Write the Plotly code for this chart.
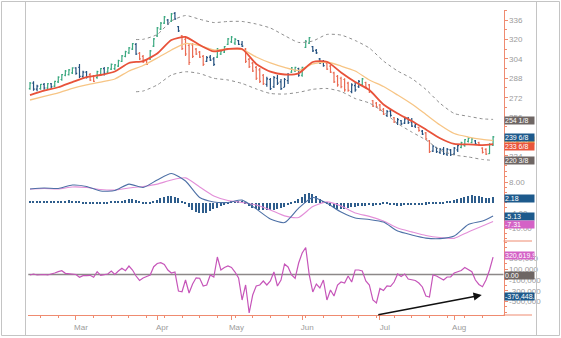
import pandas as pd
import plotly.graph_objects as go

# ---------------- data ----------------
holidays = ["2010-02-15", "2010-04-02", "2010-05-31", "2010-07-05"]
dates = pd.bdate_range("2010-02-09", "2010-08-17", freq="C", holidays=holidays)

# bar colour class per session: G = up (green), R = down (red), B = neutral (blue)
bar_class = ("GBBGBGBGGGGGG" "BBBBRRGGBGGGGGGGG" "BRRRGGGGGBGBB" "RRRRRRRBBBGGGGGGBB"
             "RRRRRRBBBBBBBGGBGGGBBBB" "RRRRRRRBBBGRRRRRRBBR" "BBBBBBRBRRBBBBBBBBGGGGBRRRGG")

high = [284.9, 285.5, 282.7, 283.3, 284.1, 284.1, 284.1, 286.0, 289.6, 291.5,
        294.8, 295.6, 297.0, 297.0, 299.8, 294.2, 294.0, 292.3, 290.7, 294.2,
        296.5, 297.3, 297.3, 300.2, 299.8, 303.3, 307.2, 310.7, 313.8, 317.1,
        317.1, 309.6, 307.2, 303.1, 311.3, 321.2, 330.2, 334.4, 339.3, 336.8,
        341.8, 342.6, 331.1, 323.6, 322.0, 316.2, 317.1, 312.9, 310.5, 307.2,
        306.3, 307.2, 305.5, 312.9, 311.5, 314.6, 321.2, 322.8, 321.2, 319.5,
        318.7, 312.9, 304.7, 301.4, 298.1, 296.5, 291.5, 289.3, 288.2, 289.9,
        290.7, 287.4, 288.2, 292.3, 297.3, 297.5, 296.7, 297.5, 319.5, 322.0,
        314.6, 312.1, 304.7, 303.1, 301.4, 298.9, 293.4, 290.7, 289.3, 288.0,
        285.2, 283.9, 284.9, 286.6, 288.2, 285.2, 283.3, 270.1, 268.5, 266.8,
        263.5, 261.9, 261.9, 256.1, 255.3, 253.6, 255.3, 256.1, 255.3, 251.2,
        248.1, 245.4, 243.7, 237.2, 233.0, 231.4, 230.6, 231.4, 230.6, 229.7,
        231.4, 233.0, 235.8, 238.0, 239.4, 238.8, 237.2, 235.8, 231.1, 230.3,
        234.4, 240.4]
low = [278.6, 277.8, 277.3, 278.6, 278.6, 279.2, 279.4, 280.6, 284.1, 286.0,
       289.6, 290.3, 291.5, 291.0, 288.2, 288.2, 287.8, 285.8, 284.9, 287.6,
       289.9, 290.3, 292.3, 294.8, 294.8, 297.3, 301.4, 305.3, 308.0, 311.3,
       307.2, 303.1, 300.6, 298.9, 303.1, 313.8, 322.0, 327.8, 332.7, 331.9,
       334.4, 336.0, 326.1, 311.3, 306.3, 298.9, 304.7, 307.2, 304.7, 298.1,
       301.4, 302.2, 298.1, 304.7, 307.2, 308.8, 315.4, 317.1, 315.4, 315.4,
       313.8, 300.6, 296.5, 293.2, 286.6, 284.1, 282.5, 281.1, 278.3, 280.0,
       282.5, 278.3, 280.8, 283.3, 292.3, 293.2, 289.3, 289.3, 312.9, 316.2,
       309.6, 308.0, 299.8, 297.5, 294.8, 292.3, 284.1, 281.1, 279.7, 277.0,
       277.0, 275.6, 277.0, 280.0, 281.6, 279.7, 275.9, 264.3, 263.5, 261.0,
       257.7, 256.1, 256.3, 251.2, 249.5, 249.5, 250.3, 250.3, 247.9, 247.0,
       244.0, 241.3, 237.2, 226.4, 227.3, 226.4, 225.6, 224.8, 224.0, 224.0,
       224.8, 227.3, 230.3, 231.6, 235.0, 234.5, 233.0, 232.2, 226.0, 224.8,
       225.6, 232.2]
open_ = [279.5, 284.0, 279.0, 279.5, 283.0, 280.0, 283.5, 281.5, 285.0, 287.0,
         290.5, 291.0, 292.5, 296.5, 297.0, 289.5, 293.0, 291.0, 289.5, 288.5,
         291.0, 296.0, 293.0, 295.5, 296.0, 298.0, 302.0, 306.0, 309.0, 312.0,
         316.0, 308.5, 306.0, 302.5, 304.0, 314.5, 323.0, 328.5, 333.5, 336.0,
         335.0, 341.5, 330.5, 323.0, 320.0, 315.0, 315.5, 312.0, 309.5, 306.0,
         302.0, 305.5, 304.0, 305.5, 308.0, 309.5, 316.0, 318.0, 317.0, 319.0,
         316.0, 312.0, 303.5, 300.5, 297.0, 295.0, 290.5, 283.0, 287.0, 281.0,
         288.0, 285.0, 280.5, 286.0, 293.0, 294.0, 296.0, 290.5, 313.5, 317.0,
         314.0, 311.0, 304.0, 302.0, 300.5, 298.0, 292.5, 289.5, 288.0, 287.0,
         284.0, 277.0, 282.0, 281.0, 282.5, 284.5, 282.5, 269.5, 267.5, 266.0,
         262.5, 257.5, 261.0, 255.5, 251.0, 253.0, 251.0, 255.0, 252.0, 248.5,
         247.5, 244.5, 243.0, 236.5, 228.0, 231.0, 227.0, 229.5, 225.5, 229.0,
         225.5, 229.0, 231.0, 232.5, 236.0, 235.0, 236.5, 235.0, 230.5, 229.5,
         226.0, 233.0]
close = [284.0, 279.0, 281.5, 283.0, 280.0, 283.5, 281.0, 285.5, 289.0, 291.0,
         294.0, 295.0, 296.5, 292.0, 289.5, 293.0, 289.0, 286.5, 285.5, 293.5,
         296.0, 292.0, 296.5, 299.5, 299.0, 302.5, 306.5, 310.0, 313.0, 316.5,
         308.0, 304.0, 301.5, 299.5, 310.5, 320.5, 329.5, 333.5, 338.5, 333.0,
         341.0, 337.0, 327.0, 312.5, 308.0, 301.0, 306.0, 308.0, 305.5, 299.5,
         305.0, 303.0, 299.5, 312.0, 310.5, 314.0, 320.5, 322.0, 320.0, 316.0,
         314.5, 302.0, 297.5, 294.0, 288.0, 285.5, 283.5, 287.5, 279.5, 288.5,
         284.0, 279.5, 287.0, 291.0, 296.5, 297.0, 290.5, 297.0, 318.5, 321.5,
         310.5, 309.0, 300.5, 298.5, 295.5, 293.0, 285.0, 282.5, 281.0, 278.5,
         278.0, 282.5, 278.5, 285.5, 287.5, 280.5, 277.0, 265.0, 264.5, 262.0,
         258.5, 260.5, 257.5, 252.0, 254.0, 250.5, 254.5, 251.5, 248.5, 250.0,
         245.0, 242.0, 238.0, 227.5, 232.0, 227.5, 229.5, 226.0, 229.5, 225.0,
         230.5, 232.5, 235.0, 237.5, 238.5, 238.0, 234.0, 233.0, 227.0, 225.5,
         233.5, 239.75]

# moving averages / MACD lines read every 4th session (plus the last one)
ma_fast = [274.2, 277.9, 280.6, 284.9, 289.0, 290.7, 293.6, 300.6, 302.2, 308.4,
           319.5, 322.0, 315.4, 310.1, 312.1, 312.1, 299.8, 293.4, 291.1, 292.1,
           301.4, 301.6, 292.8, 284.9, 278.3, 266.4, 259.0, 252.8, 245.8, 238.6,
           233.9, 233.6, 233.0, 233.75]
ma_slow = [270.1, 273.0, 275.9, 279.6, 282.5, 284.9, 287.4, 294.0, 298.5, 304.7,
           311.3, 316.6, 315.0, 311.3, 312.1, 311.7, 305.5, 300.6, 296.9, 294.4,
           299.8, 301.4, 298.1, 294.0, 286.6, 281.2, 274.2, 266.8, 258.2, 249.5,
           242.5, 239.6, 237.6, 236.6]
macd_line = [5.3, 5.7, 5.5, 6.85, 6.3, 4.5, 4.7, 7.2, 5.9, 8.8,
             11.3, 8.4, 2.0, 0.3, 0.1, 1.0, -2.4, -6.3, -7.7, -2.1,
             2.0, -0.2, -3.6, -5.9, -6.5, -7.5, -11.0, -12.5, -13.7, -13.9,
             -12.9, -8.4, -7.1, -5.13]
macd_signal = [5.3, 5.5, 5.3, 6.1, 5.9, 5.1, 4.9, 5.7, 6.3, 7.2,
               8.8, 9.6, 6.1, 2.6, 0.85, 0.1, -0.9, -2.8, -5.1, -5.7,
               -1.5, 0.3, -1.3, -4.0, -5.3, -7.1, -9.8, -11.3, -12.7, -13.5,
               -13.8, -11.3, -9.0, -7.31]
# channel bands start at session 30
band_upper = [319.9, 320.1, 324.1, 335.2, 339.7, 336.6, 333.9, 334.8, 334.8, 332.7,
              329.4, 323.2, 317.5, 318.7, 324.1, 323.6, 319.1, 312.9, 302.2, 294.0,
              287.8, 278.8, 267.4, 259.0, 256.7, 254.6, 254.125]
band_lower = [276.9, 277.5, 282.5, 290.7, 293.4, 291.9, 288.0, 286.6, 283.7, 279.2,
              275.5, 275.0, 276.4, 278.9, 279.6, 277.1, 271.3, 267.6, 260.2, 250.7,
              243.7, 237.2, 228.9, 224.8, 223.2, 221.1, 220.375]

macd_hist = [0.3, 0.3, 0.3, 0.3, 0.3, 0.3, 0.4, 0.5, 0.6, 0.7, 0.8, 0.9, 0.8,
             0.5, 0.3, -0.3, -0.3, -0.5, -0.6, -0.5, -0.4, -0.3, -0.3, 0.3, 0.3, 0.5, 0.8, 1.2,
             1.5, 1.6, 1.0, 0.3, -0.3, -0.5,
             -0.3, 0.4, 1.2, 1.9, 2.4, 2.5, 2.6, 2.4, 1.8,
             0.8, -0.5, -1.8, -2.8, -3.5,
             -4.0, -4.1, -3.8, -3.3, -2.6, -2.0, -1.4,
             -0.9, -0.4, 0.3, 0.3, 0.5, 0.3,
             -0.6, -1.3, -1.9, -2.4, -2.8, -3.0, -3.0, -2.9, -2.7, -2.4,
             -2.0, -1.6, -1.0, -0.4, 0.6, 1.5,
             2.3, 3.3, 3.6, 3.4, 2.7,
             1.6, 0.5, -0.6, -1.4, -2.0, -2.4, -2.5, -2.3,
             -2.0, -1.8, -1.6, -1.4, -1.2, -1.1, -1.0, -1.1, -1.0, -0.8,
             -0.6, -0.6, -0.8, -1.0, -1.1, -1.1, -1.0, -1.0, -0.9, -0.9, -0.8, -0.8, -0.7,
             -0.6, -0.5, -0.4, -0.3, -0.3, 0.3,
             0.6, 1.0, 1.4, 1.9, 2.3, 2.6, 2.8, 2.7, 2.5, 2.2, 1.8, 2.0, 2.18]

oscillator = [-9000, 9000, -9000, 0, 0, -9000, 4000, 28000, 52000, 70000,
              22000, 19000, 15000, 0, -52000, -22000, -19000, -15000, -52000, 52000,
              -15000, 0, 9000, 65000, 0, 65000, 115000, 70000, 157000, 83000,
              -28000, -111000, -65000, -37000, -9000, 144000, 204000, 219000, 185000, 83000,
              28000, 46000, -306000, -319000, -102000, -343000, -176000, -61000, -70000, -213000,
              -194000, -9000, -46000, 324000, 83000, 130000, 157000, 130000, 46000, -65000,
              -472000, -194000, -713000, -380000, -213000, -194000, -120000, -194000, -120000, 46000,
              -213000, -102000, 194000, 139000, -9000, -70000, 213000, 398000, 500000, -9000,
              -324000, -176000, -250000, -102000, -472000, -287000, -398000, -194000, -139000, -157000,
              -28000, -139000, 83000, 83000, 65000, -120000, -194000, -472000, -528000, -259000,
              -296000, -213000, -219000, -139000, 9000, -37000, 9000, -83000, -102000, -111000,
              -157000, -231000, -398000, -417000, -9000, -28000, -65000, -102000, -46000, -46000,
              28000, 46000, 74000, 130000, 83000, 52000, -102000, -185000, -226000, -102000,
              83000, 320619.9]

price_ticks = [224, 240, 256, 272, 288, 304, 320, 336]
price_tick_text = ["224", "", "256", "272", "288", "304", "320", "336"]   # 240 sits under the tags
macd_ticks = [-10, -4, 2, 8]
macd_tick_text = ["-10.00", "-4.00", "", "8.00"]                          # 2.00 sits under the tag
osc_ticks = [-500000, -300000, -100000, 100000, 300000]
osc_tick_text = ["-500,000", "-300,000", "-100,000", "100,000", "300,000"]

# last-value tags on the right axis: (text, value, axis, colour)
tags = [
    ("254 1/8", 254.125, "y", "#6e6664"),
    ("236 5/8", 236.6, "y", "#f3b24c"),
    ("239 6/8", 239.75, "y", "#1d5a8c"),
    ("233 6/8", 233.75, "y", "#e9553b"),
    ("220 3/8", 220.375, "y", "#6e6664"),
    ("2.18", 2.18, "y2", "#1d5a8c"),
    ("-5.13", -5.13, "y2", "#1d5a8c"),
    ("-7.31", -7.31, "y2", "#d462c6"),
    ("320,619.9", 320619.9, "y3", "#d462c6"),
    ("0.00", 0.0, "y3", "#6e6664"),
    ("-376,448.8", -376448.8, "y3", "#1d5a8c"),
]

# ---------------- figure ----------------
W, H = 561, 338
def fx(p):
    return p / W
def fy(p):
    return 1 - p / H

N = len(dates)
xi = list(range(N))
line_x = list(range(0, N, 4)) + [N - 1]
band_x = [30, 32] + list(range(36, N, 4)) + [N - 1]
month_idx = [i for i in range(1, N) if dates[i].month != dates[i - 1].month]
month_txt = [dates[i].strftime("%b") for i in month_idx]
week_idx = list(range(3, N, 5))

AX = "#ef8b70"
TXT = "#9b9b9b"
FONT = "Liberation Sans Narrow, Arial Narrow, Liberation Sans, Arial"

fig = go.Figure()

colors = {"G": "#3aa87f", "R": "#ea6a52", "B": "#23507f"}
for code, col in colors.items():
    sel = [i for i, c in enumerate(bar_class) if c == code]
    fig.add_trace(go.Ohlc(
        x=[xi[i] for i in sel], open=[open_[i] for i in sel], high=[high[i] for i in sel],
        low=[low[i] for i in sel], close=[close[i] for i in sel],
        increasing=dict(line=dict(color=col, width=1.2)),
        decreasing=dict(line=dict(color=col, width=1.2)),
        tickwidth=0.35, xaxis="x", yaxis="y", hoverinfo="skip", showlegend=False))

fig.add_trace(go.Scatter(x=band_x, y=band_upper, mode="lines", yaxis="y",
                         line=dict(color="#8e8e8e", width=1, dash="dot", shape="spline", smoothing=0.6)))
fig.add_trace(go.Scatter(x=band_x, y=band_lower, mode="lines", yaxis="y",
                         line=dict(color="#8e8e8e", width=1, dash="dot", shape="spline", smoothing=0.6)))
fig.add_trace(go.Scatter(x=line_x, y=ma_slow, mode="lines", yaxis="y",
                         line=dict(color="#f7c585", width=1.3, shape="spline", smoothing=0.6)))
fig.add_trace(go.Scatter(x=line_x, y=ma_fast, mode="lines", yaxis="y",
                         line=dict(color="#e8523a", width=1.8, shape="spline", smoothing=0.6)))

fig.add_trace(go.Bar(x=xi, y=macd_hist, width=0.3, yaxis="y2",
                     marker=dict(color="#2e5d8c", line=dict(width=0))))
fig.add_trace(go.Scatter(x=line_x, y=macd_signal, mode="lines", yaxis="y2",
                         line=dict(color="#e38fd8", width=1.1, shape="spline", smoothing=0.6)))
fig.add_trace(go.Scatter(x=line_x, y=macd_line, mode="lines", yaxis="y2",
                         line=dict(color="#4d70a6", width=1.1, shape="spline", smoothing=0.6)))

fig.add_trace(go.Scatter(x=xi, y=oscillator, mode="lines", yaxis="y3",
                         line=dict(color="#c655b9", width=1.2)))

yax_common = dict(anchor="x", side="right", showline=True, linecolor=AX, linewidth=1,
                  ticks="outside", ticklen=3, tickcolor=AX, showgrid=False, zeroline=False,
                  tickfont=dict(family=FONT, size=8, color=TXT), fixedrange=True)

shapes = [
    dict(type="rect", xref="paper", yref="paper", x0=fx(1.5), x1=fx(559.5), y0=fy(335.5), y1=fy(1.5),
         line=dict(color="#c4c4c4", width=1), layer="below"),
    dict(type="line", xref="paper", yref="paper", x0=fx(25.5), x1=fx(25.5), y0=fy(335.5), y1=fy(1.5),
         line=dict(color="#c4c4c4", width=1)),
    dict(type="line", xref="paper", yref="paper", x0=fx(536.5), x1=fx(536.5), y0=fy(335.5), y1=fy(1.5),
         line=dict(color="#c4c4c4", width=1)),
    dict(type="line", xref="paper", yref="paper", x0=fx(503.5), x1=fx(532), y0=fy(315), y1=fy(315),
         line=dict(color=AX, width=1)),
    dict(type="line", xref="paper", yref="paper", x0=fx(503.5), x1=fx(532), y0=fy(241), y1=fy(241),
         line=dict(color=AX, width=1)),
    dict(type="line", xref="x domain", yref="y3", x0=0, x1=1, y0=0, y1=0,
         line=dict(color="#8c8888", width=1.5), layer="below"),
]

shifts = {"254 1/8": -1.5, "239 6/8": -1, "233 6/8": -2, "2.18": -1.5, "-5.13": -1,
          "-7.31": -2.5, "320,619.9": 2, "0.00": -0.8, "-376,448.8": -2}
annotations = []
for text, val, ax, col in tags:
    annotations.append(dict(
        xref="paper", x=fx(504), xanchor="left", yref=ax, y=val, yanchor="middle",
        yshift=shifts.get(text, 0), text=text, showarrow=False, align="left",
        width=29, height=7, bgcolor=col, borderpad=0,
        font=dict(family=FONT, size=7, color="white")))

annotations.append(dict(
    xref="x", yref="y3", x=127.8, y=-380000, axref="x", ayref="y3", ax=98.1, ay=-750000,
    text="", showarrow=True, arrowhead=2, arrowsize=1.1, arrowwidth=1.5, arrowcolor="#111111"))

fig.update_layout(
    width=W, height=H, margin=dict(l=0, r=0, t=0, b=0), autosize=False,
    paper_bgcolor="white", plot_bgcolor="white", showlegend=False, bargap=0,
    xaxis=dict(domain=[fx(28.3), fx(503.5)], range=[-0.48, 133.95], anchor="y3",
               showline=True, linecolor=AX, linewidth=1, showgrid=False, zeroline=False,
               tickmode="array", tickvals=month_idx, ticktext=month_txt,
               ticks="outside", ticklen=4, tickcolor=AX, ticklabelshift=5,
               tickfont=dict(family=FONT, size=8, color=TXT),
               minor=dict(tickmode="array", tickvals=week_idx, ticks="outside", ticklen=2,
                          tickcolor=AX, showgrid=False),
               rangeslider=dict(visible=False), fixedrange=True),
    yaxis=dict(domain=[fy(170), fy(10)], range=[212.44, 344.24], tickmode="array",
               tickvals=price_ticks, ticktext=price_tick_text,
               minor=dict(tickmode="linear", tick0=0, dtick=8, ticks="outside", ticklen=2, tickcolor=AX),
               **yax_common),
    yaxis2=dict(domain=[fy(241), fy(170)], range=[-14.83, 12.66], tickmode="array",
                tickvals=macd_ticks, ticktext=macd_tick_text,
                minor=dict(tickmode="linear", tick0=0, dtick=2, ticks="outside", ticklen=2, tickcolor=AX),
                **yax_common),
    yaxis3=dict(domain=[fy(315), fy(241)], range=[-750000, 620370], tickmode="array",
                tickvals=osc_ticks, ticktext=osc_tick_text,
                minor=dict(tickmode="linear", tick0=0, dtick=100000, ticks="outside", ticklen=2, tickcolor=AX),
                **yax_common),
    shapes=shapes, annotations=annotations,
)

fig.write_html("out.html")
